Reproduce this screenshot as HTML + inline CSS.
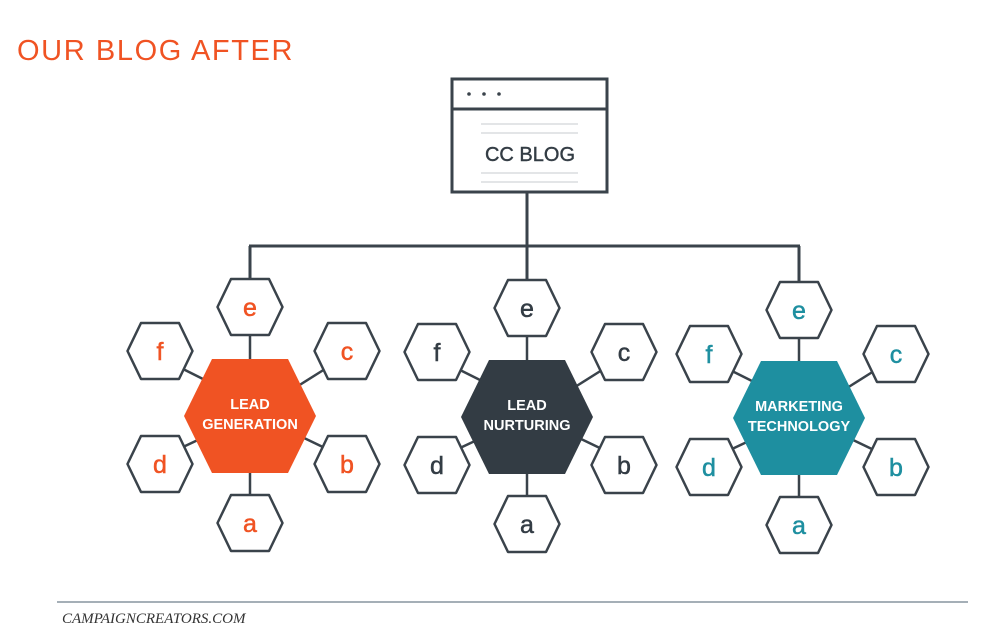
<!DOCTYPE html>
<html><head><meta charset="utf-8"><style>
html,body{margin:0;padding:0;background:#fff;width:1002px;height:640px;overflow:hidden}
svg{display:block}
</style></head><body>
<svg width="1002" height="640" viewBox="0 0 1002 640" xmlns="http://www.w3.org/2000/svg">
<defs>
<polygon id="sh" points="-32.5,0 -19,-28 19,-28 32.5,0 19,28 -19,28" fill="#fff" stroke="#3a434b" stroke-width="2.5" stroke-linejoin="round"/>
<polygon id="bh" points="-66,0 -38,-57 38,-57 66,0 38,57 -38,57"/>
<g id="lines" stroke="#3a434b" stroke-width="2.5">
<line x1="0" y1="-82" x2="0" y2="-56"/>
<line x1="0" y1="56" x2="0" y2="80"/>
<line x1="-69" y1="-48" x2="-45" y2="-36"/>
<line x1="48" y1="-30" x2="75" y2="-47"/>
<line x1="-67" y1="31" x2="-50" y2="23"/>
<line x1="52" y1="21" x2="77" y2="33"/>
</g>
</defs>
<text x="17" y="60" font-family="Liberation Sans, sans-serif" font-size="29" fill="#f05323" letter-spacing="1.6">OUR BLOG AFTER</text>

<!-- blog box -->
<rect x="452" y="79" width="155" height="113" fill="#fff" stroke="#3a434b" stroke-width="3"/>
<line x1="452" y1="109" x2="607" y2="109" stroke="#3a434b" stroke-width="3"/>
<circle cx="469" cy="94" r="1.8" fill="#3a434b"/><circle cx="484" cy="94" r="1.8" fill="#3a434b"/><circle cx="499" cy="94" r="1.8" fill="#3a434b"/>
<g stroke="#e3e5e7" stroke-width="2"><line x1="481" y1="124" x2="578" y2="124"/><line x1="481" y1="133" x2="578" y2="133"/><line x1="481" y1="173" x2="578" y2="173"/><line x1="481" y1="182" x2="578" y2="182"/></g>
<text x="530" y="161" text-anchor="middle" font-family="Liberation Sans, sans-serif" font-size="20" fill="#333c44" stroke="#333c44" stroke-width="0.4">CC BLOG</text>

<!-- tree -->
<g stroke="#3a434b" stroke-width="3" fill="none">
<line x1="527" y1="192" x2="527" y2="246"/>
<line x1="249" y1="246" x2="800" y2="246"/>
<line x1="250" y1="246" x2="250" y2="280"/>
<line x1="527" y1="246" x2="527" y2="280"/>
<line x1="799" y1="246" x2="799" y2="283"/>
</g>

<g font-family="Liberation Sans, sans-serif" font-size="25" text-anchor="middle">
<!-- left cluster -->
<g transform="translate(250,416)" fill="#f05323">
<use href="#lines"/>
<use href="#bh" fill="#f05323"/>
<use href="#sh" x="0" y="-109"/><use href="#sh" x="-90" y="-65"/><use href="#sh" x="97" y="-65"/>
<use href="#sh" x="-90" y="48"/><use href="#sh" x="97" y="48"/><use href="#sh" x="0" y="107"/>
<g stroke="#f05323" stroke-width="0.5">
<text x="0" y="-100">e</text><text x="-90" y="-56">f</text><text x="97" y="-56">c</text>
<text x="-90" y="57">d</text><text x="97" y="57">b</text><text x="0" y="116">a</text></g>
<g fill="#fff" font-size="14.5" font-weight="bold"><text x="0" y="-7">LEAD</text><text x="0" y="13">GENERATION</text></g>
</g>
<!-- middle cluster -->
<g transform="translate(527,417)" fill="#333c44">
<use href="#lines"/>
<use href="#bh" fill="#333c44"/>
<use href="#sh" x="0" y="-109"/><use href="#sh" x="-90" y="-65"/><use href="#sh" x="97" y="-65"/>
<use href="#sh" x="-90" y="48"/><use href="#sh" x="97" y="48"/><use href="#sh" x="0" y="107"/>
<g stroke="#333c44" stroke-width="0.5">
<text x="0" y="-100">e</text><text x="-90" y="-56">f</text><text x="97" y="-56">c</text>
<text x="-90" y="57">d</text><text x="97" y="57">b</text><text x="0" y="116">a</text></g>
<g fill="#fff" font-size="14.5" font-weight="bold"><text x="0" y="-7">LEAD</text><text x="0" y="13">NURTURING</text></g>
</g>
<!-- right cluster -->
<g transform="translate(799,418)" fill="#1e8fa0">
<use href="#lines"/>
<use href="#bh" fill="#1e8fa0"/>
<use href="#sh" x="0" y="-108"/><use href="#sh" x="-90" y="-64"/><use href="#sh" x="97" y="-64"/>
<use href="#sh" x="-90" y="49"/><use href="#sh" x="97" y="49"/><use href="#sh" x="0" y="107"/>
<g stroke="#1e8fa0" stroke-width="0.5">
<text x="0" y="-99">e</text><text x="-90" y="-55">f</text><text x="97" y="-55">c</text>
<text x="-90" y="58">d</text><text x="97" y="58">b</text><text x="0" y="116">a</text></g>
<g fill="#fff" font-size="14.5" font-weight="bold"><text x="0" y="-7">MARKETING</text><text x="0" y="13">TECHNOLOGY</text></g>
</g>
</g>

<line x1="57" y1="602" x2="968" y2="602" stroke="#6f7f8c" stroke-width="1.2"/>
<text x="62" y="623" font-family="Liberation Serif, serif" font-style="italic" font-size="15" fill="#333">CAMPAIGNCREATORS.COM</text>
</svg>
</body></html>
